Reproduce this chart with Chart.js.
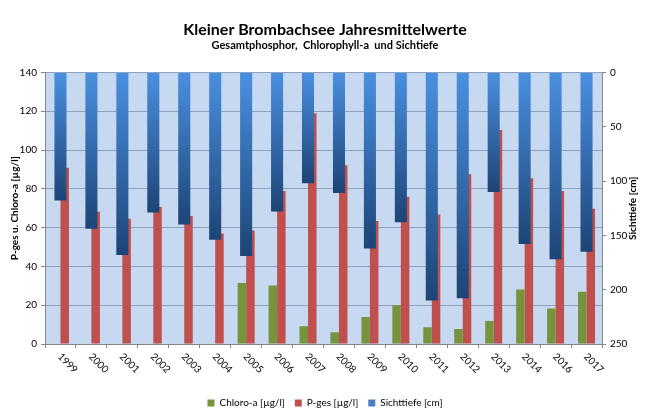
<!DOCTYPE html>
<html><head><meta charset="utf-8">
<script src="https://cdn.jsdelivr.net/npm/chart.js@4/dist/chart.umd.min.js"></script>
<style>html,body{margin:0;padding:0;background:#fff}#wrap{width:650px;height:415px}</style>
</head><body><div id="wrap"><canvas id="c" width="650" height="415"></canvas></div>
<script>
const years = ['1999','2000','2001','2002','2003','2004','2005','2006','2007','2008','2009','2010','2011','2012','2013','2014','2016','2017'];
const chloroA = [null,null,null,null,null,null,31.5,30.1,9.1,6.0,13.9,20.0,8.6,7.7,11.9,28.1,18.3,26.9];
const pGes = [90.9,68.2,64.6,70.6,66.0,57.0,58.5,78.9,119.0,92.2,63.4,75.9,66.8,87.5,110.3,85.4,78.9,69.7];
const sichttiefe = [118,144,168,129,140,154,169,128,102,111,162,138,210,208,110,158,172,165];
const leftTicks = [0,20,40,60,80,100,120,140];
const rightTicks = [0,50,100,150,200,250];

const FONT = 'Lato, "Liberation Sans", sans-serif';
Chart.defaults.font.family = FONT;
Chart.defaults.color = '#000';

const bgPlugin = {
  id: 'plotBg',
  beforeDraw(chart) {
    const a = chart.chartArea, ctx = chart.ctx;
    ctx.save(); ctx.fillStyle = '#c6d9f0';
    ctx.fillRect(a.left, a.top, a.right - a.left, a.bottom - a.top);
    ctx.restore();
  }
};
const labelPlugin = {
  id: 'xLabels',
  afterDraw(chart) {
    const ctx = chart.ctx, xs = chart.scales.x, a = chart.chartArea;
    ctx.save();
    ctx.fillStyle = '#000';
    ctx.font = '10px ' + FONT;
    years.forEach((lab, i) => {
      const cx = xs.getPixelForValue(i);
      ctx.save();
      ctx.translate(cx - 1, a.bottom + 11);
      ctx.rotate(Math.PI / 4);
      ctx.textAlign = 'left'; ctx.textBaseline = 'middle';
      ctx.fillText(lab, 0, 0);
      ctx.restore();
    });
    // right axis title
    ctx.font = 'bold 10px ' + FONT;
    ctx.translate(633, (a.top + a.bottom) / 2);
    ctx.rotate(-Math.PI / 2);
    ctx.textAlign = 'center'; ctx.textBaseline = 'middle';
    ctx.fillText('Sichttiefe [cm]', 0, 0);
    ctx.restore();
  }
};

function blueGrad(c) {
  const chart = c.chart, area = chart.chartArea;
  if (!area || c.type !== 'data') return '#4a7ec4';
  const yEnd = chart.scales.y2.getPixelForValue(c.raw);
  const g = chart.ctx.createLinearGradient(0, area.top, 0, yEnd);
  g.addColorStop(0, '#4a90e0');
  g.addColorStop(1, '#1d4476');
  return g;
}

new Chart(document.getElementById('c'), {
  type: 'bar',
  data: {
    labels: years,
    datasets: [
      { label: 'Chloro-a [µg/l]', data: chloroA, backgroundColor: '#77933c', yAxisID: 'y', order: 1, categoryPercentage: 0.55, barPercentage: 1 },
      { label: 'P-ges [µg/l]', data: pGes, backgroundColor: '#c0504d', yAxisID: 'y', order: 1, categoryPercentage: 0.55, barPercentage: 1 },
      { label: 'Sichttiefe [cm]', data: sichttiefe, backgroundColor: blueGrad, yAxisID: 'y2', order: 0, grouped: false, categoryPercentage: 1, barPercentage: 0.39 }
    ]
  },
  options: {
    responsive: false, animation: false, devicePixelRatio: 1,
    layout: { padding: { left: 0, right: 0, top: 0, bottom: -3 } },
    plugins: {
      title: { display: true, text: 'Kleiner Brombachsee Jahresmittelwerte', font: { size: 16, weight: 'bold' }, padding: { top: 20, bottom: 0 }, color: '#000' },
      subtitle: { display: true, text: 'Gesamtphosphor,  Chlorophyll-a  und Sichtiefe', font: { size: 11, weight: 'bold' }, padding: { top: 0, bottom: 20 }, color: '#000' },
      legend: { position: 'bottom', labels: {
        boxWidth: 7, boxHeight: 7, font: { size: 10 }, padding: 10, color: '#000',
        sort: (a, b) => a.datasetIndex - b.datasetIndex,
        generateLabels: (chart) => {
          const items = Chart.defaults.plugins.legend.labels.generateLabels(chart);
          const cols = ['#77933c', '#c0504d', '#4a7ec4'];
          items.forEach(it => { it.fillStyle = cols[it.datasetIndex]; it.strokeStyle = cols[it.datasetIndex]; it.lineWidth = 0; });
          return items;
        }
      } },
      tooltip: { enabled: false }
    },
    scales: {
      x: {
        offset: true,
        grid: { offset: true, drawOnChartArea: false, tickLength: 4, color: '#868686' },
        border: { color: '#868686' },
        ticks: { display: false },
        afterFit: s => { s.height = 44; }
      },
      y: {
        position: 'left', min: 0, max: 140,
        afterBuildTicks: s => { s.ticks = leftTicks.map(v => ({ value: v })); },
        grid: { color: '#8fa2bd', tickLength: 4, tickColor: '#868686' },
        border: { color: '#868686' },
        ticks: { font: { size: 10 }, padding: 4, color: '#000' },
        title: { display: true, text: 'P-ges u. Chloro-a [µg/l]', font: { size: 10, weight: 'bold' }, padding: { top: 9, bottom: 0 }, color: '#000' },
        afterFit: s => { s.width = 45; }
      },
      y2: {
        position: 'right', min: 0, max: 250, reverse: true,
        afterBuildTicks: s => { s.ticks = rightTicks.map(v => ({ value: v })); },
        grid: { drawOnChartArea: false, tickLength: 4, color: '#868686' },
        border: { color: '#868686' },
        ticks: { font: { size: 10 }, padding: 4, color: '#000' },
        afterFit: s => { s.width = 48; }
      }
    }
  },
  plugins: [bgPlugin, labelPlugin]
});
</script></body></html>
